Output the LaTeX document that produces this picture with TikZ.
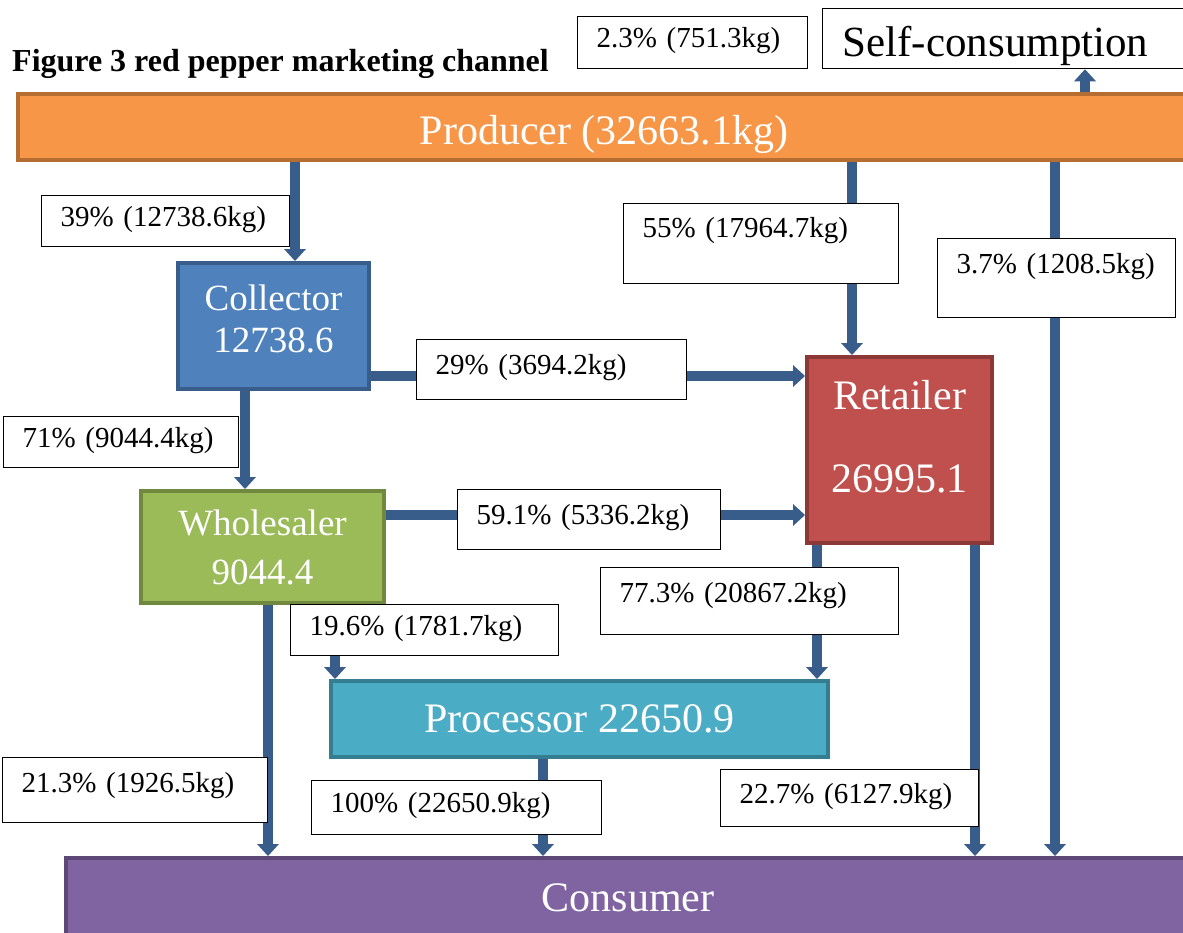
\documentclass[tikz,border=0pt]{standalone}
\usepackage{fontspec}
\setmainfont{Liberation Serif}
\usetikzlibrary{arrows.meta}

\begin{document}
\begin{tikzpicture}[x=1pt, y=-1pt,
  actor/.style={draw=#1line, fill=#1fill, line width=4pt, text=white, align=center, inner sep=0pt},
  flow/.style={draw=pgflow, line width=10pt, -{Triangle[width=22pt, length=12pt, line width=0pt]}},
  lab/.style={draw=black, line width=1.3pt, fill=white, anchor=north west, align=left,
    inner xsep=19pt, inner ysep=0pt, text height=17pt, font=\fontsize{29}{32}\selectfont}]
\definecolor{prodfill}{HTML}{F79646}
\definecolor{prodline}{HTML}{B66D31}
\definecolor{colfill}{HTML}{4F81BD}
\definecolor{colline}{HTML}{385D8A}
\definecolor{retfill}{HTML}{C0504D}
\definecolor{retline}{HTML}{8C3836}
\definecolor{wholefill}{HTML}{9BBB59}
\definecolor{wholeline}{HTML}{71893F}
\definecolor{procfill}{HTML}{4BACC6}
\definecolor{procline}{HTML}{357D91}
\definecolor{consfill}{HTML}{8064A2}
\definecolor{consline}{HTML}{5C4776}
\definecolor{pgflow}{HTML}{385D8A}
\useasboundingbox (0,0) rectangle (1183,932);
\clip (0,0) rectangle (1183,932);
% ---- title ----
\node[font=\fontsize{32}{36}\selectfont\bfseries, anchor=base west, inner sep=0pt] (title) at (12,71) {Figure 3 red pepper marketing channel};
% ---- actors ----
\node[actor=prod, minimum width=1172pt, minimum height=66pt, text height=43pt, text depth=9pt,
  font=\fontsize{42}{46}\selectfont] (prod) at (604,127) {Producer (32663.1kg)};
\node[draw=black, line width=1.3pt, fill=white, anchor=north west, minimum height=60pt, text width=330pt,
  inner xsep=20pt, inner ysep=0pt, align=left, text height=36pt, text depth=0pt,
  font=\fontsize{43}{46}\selectfont] (selfc) at (822,8) {Self-consumption};
\node[actor=col, minimum width=191pt, minimum height=126pt] (col) at (273.5,326) {};
\node[text=white, align=center, inner sep=0pt, font=\fontsize{37}{42}\selectfont] (colname) at ([yshift=7pt]col.center) {Collector\\12738.6};
\node[actor=ret, minimum width=185pt, minimum height=186pt] (ret) at (899.5,450) {};
\node[text=white, align=center, inner sep=0pt, font=\fontsize{42}{83}\selectfont] (retname) at ([yshift=13pt]ret.center) {Retailer\\26995.1};
\node[actor=whole, minimum width=243pt, minimum height=112pt, font=\fontsize{37}{49}\selectfont] (whole) at (262.5,547) {Wholesaler\\9044.4};
\node[actor=proc, minimum width=497pt, minimum height=76pt, font=\fontsize{42}{46}\selectfont] (proc) at (579.5,719) {Processor 22650.9};
\node[actor=cons, minimum width=1124pt, minimum height=80pt, font=\fontsize{42}{46}\selectfont] (cons) at (628,898) {Consumer};
% ---- flows ----
\draw[flow] (1085,0 |- prod.north) -- (1085,0 |- selfc.south);
\draw[flow] (295,0 |- prod.south) -- (295,0 |- col.north);
\draw[flow] (852,0 |- prod.south) -- (852,0 |- ret.north);
\draw[flow] (1055,0 |- prod.south) -- (1055,0 |- cons.north);
\draw[flow] (col.east |- 0,376) -- (ret.west |- 0,376);
\draw[flow] (245,0 |- col.south) -- (245,0 |- whole.north);
\draw[flow] (whole.east |- 0,515) -- (ret.west |- 0,515);
\draw[flow] (268,0 |- whole.south) -- (268,0 |- cons.north);
\draw[flow] (335,0 |- whole.south) -- (335,0 |- proc.north);
\draw[flow] (817,0 |- ret.south) -- (817,0 |- proc.north);
\draw[flow] (543,0 |- proc.south) -- (543,0 |- cons.north);
\draw[flow] (975,0 |- ret.south) -- (975,0 |- cons.north);
% ---- shares on the flows ----
\foreach \nm/\x/\y/\w/\h/\dd/\txt in {
  l23/577/16/230/52/7/{2.3\% (751.3kg)},
  l39/41/195/248/51/7/{39\% (12738.6kg)},
  l55/623/203/275/80/29/{55\% (17964.7kg)},
  l37/937/238/238/79/26/{3.7\% (1208.5kg)},
  l29/416/339/270/60/7/{29\% (3694.2kg)},
  l71/3/416/235/51/7/{71\% (9044.4kg)},
  l591/457/489/263/60/7/{59.1\% (5336.2kg)},
  l773/600/567/298/67/15/{77.3\% (20867.2kg)},
  l196/290/604/268/51/7/{19.6\% (1781.7kg)},
  l213/2/757/265/65/13/{21.3\% (1926.5kg)},
  l100/311/780/290/54/7/{100\% (22650.9kg)},
  l227/720/769/258/57/7/{22.7\% (6127.9kg)}} {
  \pgfmathsetmacro\tw{\w-38}
  \node[lab, text width=\tw pt, minimum height=\h pt, text depth=\dd pt] (\nm) at (\x,\y) {\txt};
}
\end{tikzpicture}
\end{document}
